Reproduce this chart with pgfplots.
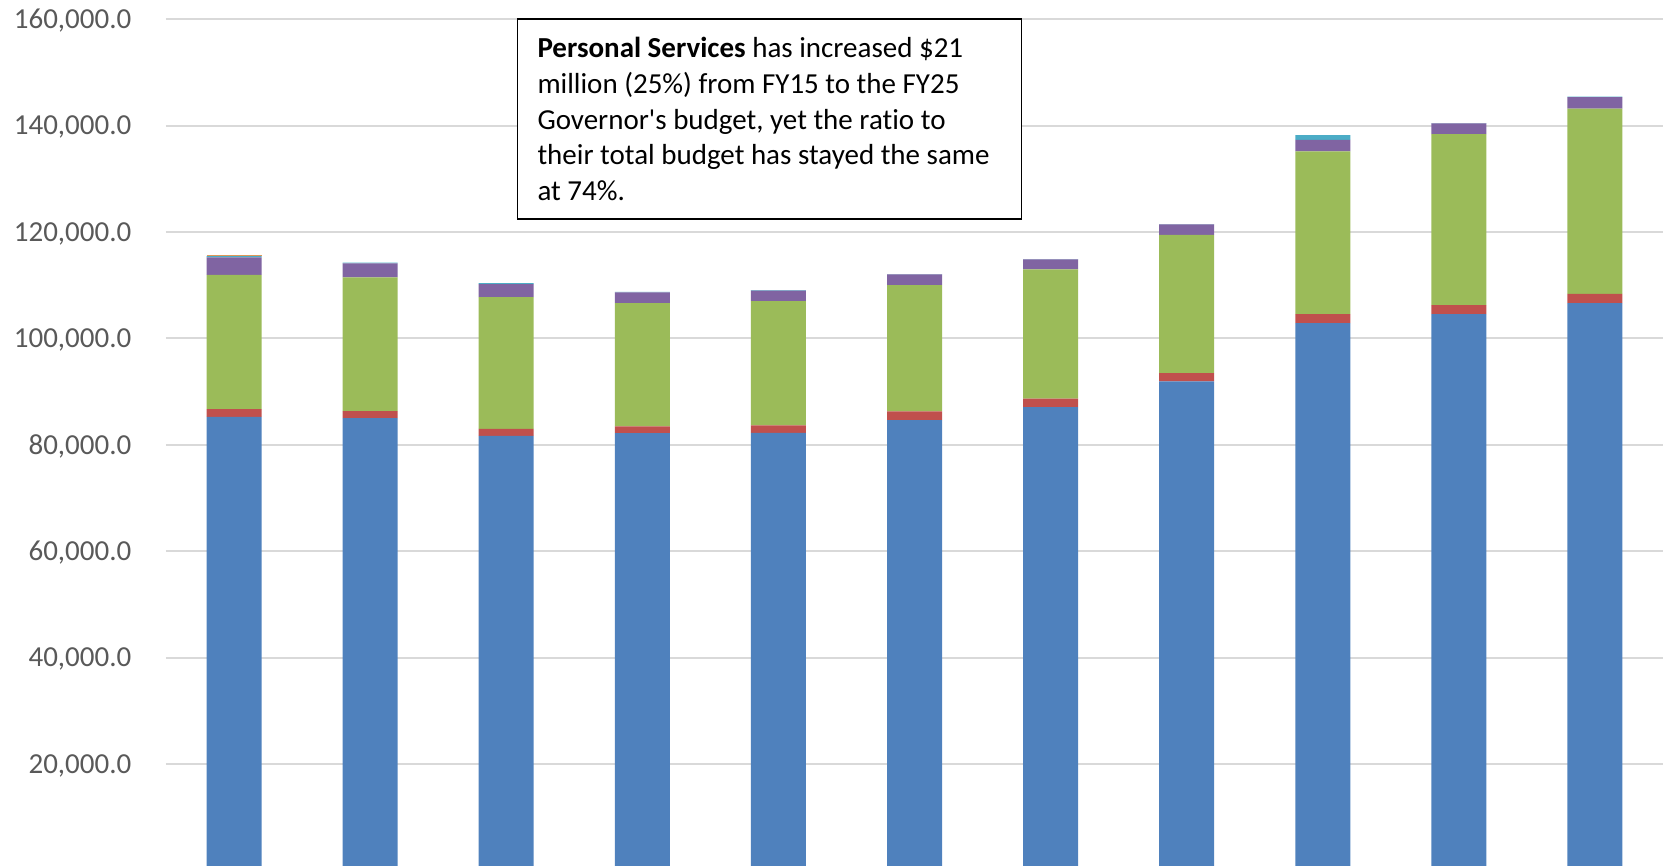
\documentclass[border=0pt]{standalone}
\usepackage{pgfplots}
\pgfplotsset{compat=1.18}
\usepackage{pgfplotstable}
\usepackage{fontspec}
\setmainfont[Ligatures={NoCommon}]{Carlito}

\definecolor{xlblue}{HTML}{4F81BD}
\definecolor{xlred}{HTML}{C0504D}
\definecolor{xlgreen}{HTML}{9BBB59}
\definecolor{xlpurple}{HTML}{8064A2}
\definecolor{xlaqua}{HTML}{4BACC6}
\definecolor{xlorange}{HTML}{F79646}
\definecolor{gridgray}{HTML}{D9D9D9}
\definecolor{labgray}{HTML}{595959}

% budget components by year (FY15 .. FY25)
\pgfplotstableread{
x  ps      b     c      d     e    f
0  85280   1450  25240  3260  320  180
1  85030   1320  25120  2630  180  0
2  81710   1320  24750  2440  190  0
3  82220   1240  23190  2000  100  0
4  82270   1380  23380  1990  50   0
5  84660   1620  23760  1990  50   0
6  87100   1620  24250  1910  50   0
7  91920   1570  25980  2000  50   0
8  102890  1690  30570  2200  880  0
9  104580  1700  32140  2000  80   0
10 106650  1750  34830  2150  70   0
}\budget

\begin{document}
\begin{tikzpicture}
\begin{axis}[
    at={(0,0)}, anchor=south west,
    scale only axis,
    width=748.5pt, height=423.35pt,
    ybar stacked, bar width=27.5pt,
    xmin=-0.5, xmax=10.5,
    ymin=850, ymax=160000,
    ytick={20000,40000,...,160000},
    xtick=\empty,
    ymajorgrids, grid style={gridgray, line width=1pt},
    axis line style={draw=none},
    major tick length=0pt,
    clip=true,
    scaled y ticks=false,
    yticklabel style={
        /pgf/number format/.cd, fixed, fixed zerofill, precision=1,
        1000 sep={,}, assume math mode=true,
        /tikz/.cd, font=\fontsize{14.5}{16}\selectfont, text=labgray,
        anchor=base east, xshift=-13.8pt, yshift=-4.6pt},
]
\addplot[fill=xlblue, draw=none] table[x=x, y=ps] {\budget};
\addplot[fill=xlred, draw=none] table[x=x, y=b] {\budget};
\addplot[fill=xlgreen, draw=none] table[x=x, y=c] {\budget};
\addplot[fill=xlpurple, draw=none] table[x=x, y=d] {\budget};
\addplot[fill=xlaqua, draw=none] table[x=x, y=e] {\budget};
\addplot[fill=xlorange, draw=none] table[x=x, y=f] {\budget};
\end{axis}
\node[draw=black, line width=0.8pt, fill=white, anchor=north west,
      text width=232pt, align=flush left, inner xsep=10pt, inner ysep=9pt,
      font=\fontsize{14.5}{17.9}\selectfont]
  at (175.35pt,423.85pt)
  {\textbf{Personal Services} has increased \$21\\
   million (25\%) from FY15 to the FY25\\
   Governor\textquotesingle s budget, yet the ratio to\\
   their total budget has stayed the same\\
   at 74\%.};
\pgfresetboundingbox
\path (-83pt,0pt) rectangle (748.5pt,433pt);
\end{tikzpicture}
\end{document}
